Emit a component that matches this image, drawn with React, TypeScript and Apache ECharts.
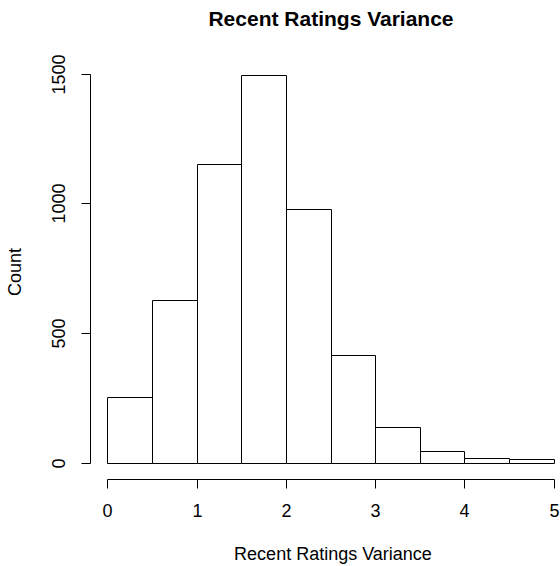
import React, { useEffect, useRef } from "react";
import * as echarts from "echarts";

const binStarts = [0, 0.5, 1, 1.5, 2, 2.5, 3, 3.5, 4, 4.5];
const binWidth = 0.5;
const counts = [253, 626, 1153, 1494, 977, 416, 137, 47, 18, 13];
const xTicks = [0, 1, 2, 3, 4, 5];
const yTicks = [0, 500, 1000, 1500];
const titleText = "Recent Ratings Variance";
const xLabel = "Recent Ratings Variance";
const yLabel = "Count";

const snap = (v: number) => Math.round(v - 0.5) + 0.5;

export default function App() {
  const ref = useRef<HTMLDivElement | null>(null);
  useEffect(() => {
    const chart = echarts.init(ref.current as HTMLDivElement, null, { renderer: "svg" });
    const ff = "'Liberation Sans', Arial, sans-serif";
    const barData = binStarts.map((s, i) => [s, s + binWidth, counts[i]]);
    const xMin = -0.2;
    const yMin = -60.5;
    const tickLen = 9;

    chart.setOption({
      animation: false,
      grid: { left: 90, right: 0, top: 60, bottom: 87 },
      xAxis: { type: "value", min: xMin, max: 5.065, show: false },
      yAxis: { type: "value", min: yMin, max: 1555, show: false },
      graphic: [
        {
          type: "text",
          x: 331,
          y: 18,
          style: {
            text: titleText,
            font: `bold 21px ${ff}`,
            fill: "#000",
            textAlign: "center",
            textVerticalAlign: "middle",
          },
        },
        {
          type: "text",
          x: 333,
          y: 554,
          style: {
            text: xLabel,
            font: `18px ${ff}`,
            fill: "#000",
            textAlign: "center",
            textVerticalAlign: "middle",
          },
        },
        {
          type: "text",
          x: 15,
          y: 272,
          rotation: Math.PI / 2,
          style: {
            text: yLabel,
            font: `18px ${ff}`,
            fill: "#000",
            textAlign: "center",
            textVerticalAlign: "middle",
          },
        },
      ],
      series: [
        {
          type: "custom",
          clip: false,
          data: barData,
          encode: { x: [0, 1], y: 2 },
          renderItem: (params: any, api: any) => {
            const p0 = api.coord([api.value(0), api.value(2)]);
            const p1 = api.coord([api.value(1), 0]);
            const x0 = snap(p0[0]);
            const x1 = snap(p1[0]);
            const y0 = snap(p0[1]);
            const y1 = snap(p1[1]);
            return {
              type: "rect",
              shape: { x: x0, y: y0, width: x1 - x0, height: y1 - y0 },
              style: { fill: "#fff", stroke: "#000", lineWidth: 1 },
            };
          },
        },
        {
          type: "custom",
          clip: false,
          data: [[0, 0]],
          renderItem: (params: any, api: any) => {
            const children: any[] = [];
            const axisY = snap(api.coord([0, yMin])[1]);
            const axisX = snap(api.coord([xMin, 0])[0]);
            const xs = xTicks.map((t) => snap(api.coord([t, 0])[0]));
            const ys = yTicks.map((t) => snap(api.coord([0, t])[1]));
            const ls = { stroke: "#000", lineWidth: 1 };
            children.push({
              type: "line",
              shape: { x1: xs[0], y1: axisY, x2: xs[xs.length - 1], y2: axisY },
              style: ls,
            });
            xTicks.forEach((t, i) => {
              children.push({
                type: "line",
                shape: { x1: xs[i], y1: axisY, x2: xs[i], y2: axisY + tickLen },
                style: ls,
              });
              children.push({
                type: "text",
                x: xs[i],
                y: 511,
                style: {
                  text: String(t),
                  font: `18px ${ff}`,
                  fill: "#000",
                  textAlign: "center",
                  textVerticalAlign: "middle",
                },
              });
            });
            children.push({
              type: "line",
              shape: { x1: axisX, y1: ys[0], x2: axisX, y2: ys[ys.length - 1] },
              style: ls,
            });
            yTicks.forEach((t, i) => {
              children.push({
                type: "line",
                shape: { x1: axisX, y1: ys[i], x2: axisX - tickLen, y2: ys[i] },
                style: ls,
              });
              children.push({
                type: "text",
                x: 58.5,
                y: ys[i],
                rotation: Math.PI / 2,
                style: {
                  text: String(t),
                  font: `18px ${ff}`,
                  fill: "#000",
                  textAlign: "center",
                  textVerticalAlign: "middle",
                },
              });
            });
            return { type: "group", children };
          },
        },
      ],
    });
    return () => chart.dispose();
  }, []);

  return (
    <div
      ref={ref}
      style={{ position: "absolute", left: 0, top: 0, width: 560, height: 566 }}
    />
  );
}
